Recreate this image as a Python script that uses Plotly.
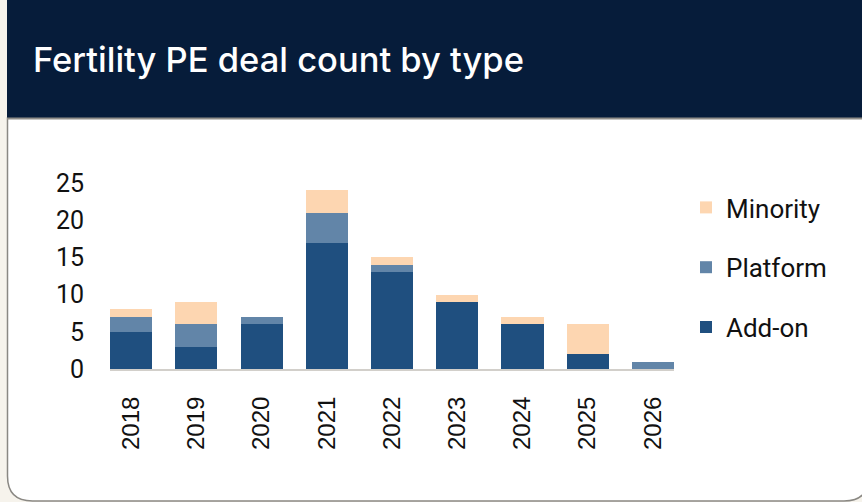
import plotly.graph_objects as go

W, H = 862, 502

years = ["2018", "2019", "2020", "2021", "2022", "2023", "2024", "2025", "2026"]
add_on = [5, 3, 6, 17, 13, 9, 6, 2, 0]
platform = [2, 3, 1, 4, 1, 0, 0, 0, 1]
minority = [1, 3, 0, 3, 1, 1, 1, 4, 0]
y_ticks = [0, 5, 10, 15, 20, 25]

title_text = "Fertility PE deal count by type"

C_ADD = "#1f4f7f"
C_PLAT = "#6285a8"
C_MIN = "#fdd6b1"
NAVY = "#061c3a"
BEIGE = "#f6f3ec"


def fx(x):
    return x / W


def fy(y):
    return 1 - y / H


fig = go.Figure()
for name, vals, col, rank in [("Add-on", add_on, C_ADD, 3), ("Platform", platform, C_PLAT, 2),
                              ("Minority", minority, C_MIN, 1)]:
    fig.add_trace(go.Bar(x=years, y=vals, name=name, marker=dict(color=col, line=dict(width=0)),
                         legendgroup=name, legendrank=rank, hoverinfo="skip"))

card_path = (
    f"M {fx(7.5)} {fy(118)} L {fx(7.5)} {fy(476)} Q {fx(7.5)} {fy(501)} {fx(32.5)} {fy(501)} "
    f"L {fx(844)} {fy(501)} Q {fx(869)} {fy(501)} {fx(869)} {fy(476)} L {fx(869)} {fy(118)} Z"
)

shapes = [
    dict(type="path", xref="paper", yref="paper", path=card_path, fillcolor="white",
         line=dict(color="#8a8883", width=1.5), layer="below"),
    dict(type="rect", xref="paper", yref="paper", x0=fx(7), x1=fx(875), y0=fy(-5), y1=fy(118),
         fillcolor=NAVY, line=dict(width=0), layer="below"),
    dict(type="line", xref="paper", yref="paper", x0=fx(7), x1=fx(875), y0=fy(118.5), y1=fy(118.5),
         line=dict(color="#8f8d88", width=2), layer="below"),
]

fig.update_layout(
    width=W, height=H,
    margin=dict(l=0, r=0, t=0, b=0),
    paper_bgcolor=BEIGE,
    plot_bgcolor="rgba(0,0,0,0)",
    barmode="stack",
    bargap=0.355,
    shapes=shapes,
    showlegend=True,
    legend=dict(
        x=fx(686), y=fy(184), xanchor="left", yanchor="top",
        traceorder="grouped", tracegroupgap=23,
        font=dict(family="Roboto", size=26, color="#111111"),
        bgcolor="rgba(0,0,0,0)",
    ),
    annotations=[
        dict(text=title_text, xref="paper", yref="paper", x=fx(31), y=fy(59),
             xanchor="left", yanchor="middle", showarrow=False,
             font=dict(family="Inter", size=34.5, color="white", weight=500)),
    ],
    xaxis=dict(
        domain=[fx(110), fx(674)], range=[-0.323, 8.323], type="category",
        tickangle=-90, showgrid=False, zeroline=False,
        showline=True, linecolor="#d2cfca", linewidth=2,
        ticks="", ticklabelstandoff=16,
        tickfont=dict(family="Liberation Sans, Arial", size=24, color="#111111"),
        automargin=False, fixedrange=True,
    ),
    yaxis=dict(
        domain=[fy(369), fy(183)], range=[0, 25],
        tickvals=y_ticks, showgrid=False, zeroline=False, showline=False,
        ticks="", ticklabelstandoff=25,
        tickfont=dict(family="Roboto", size=25, color="#111111"),
        automargin=False, fixedrange=True,
    ),
)

post = (
    "document.body.style.margin='0';document.body.style.padding='0';"
    "document.body.style.background='" + BEIGE + "';"
    "document.documentElement.style.overflow='hidden';"
)

fig.write_html("out.html", post_script=post, config={"displayModeBar": False})
